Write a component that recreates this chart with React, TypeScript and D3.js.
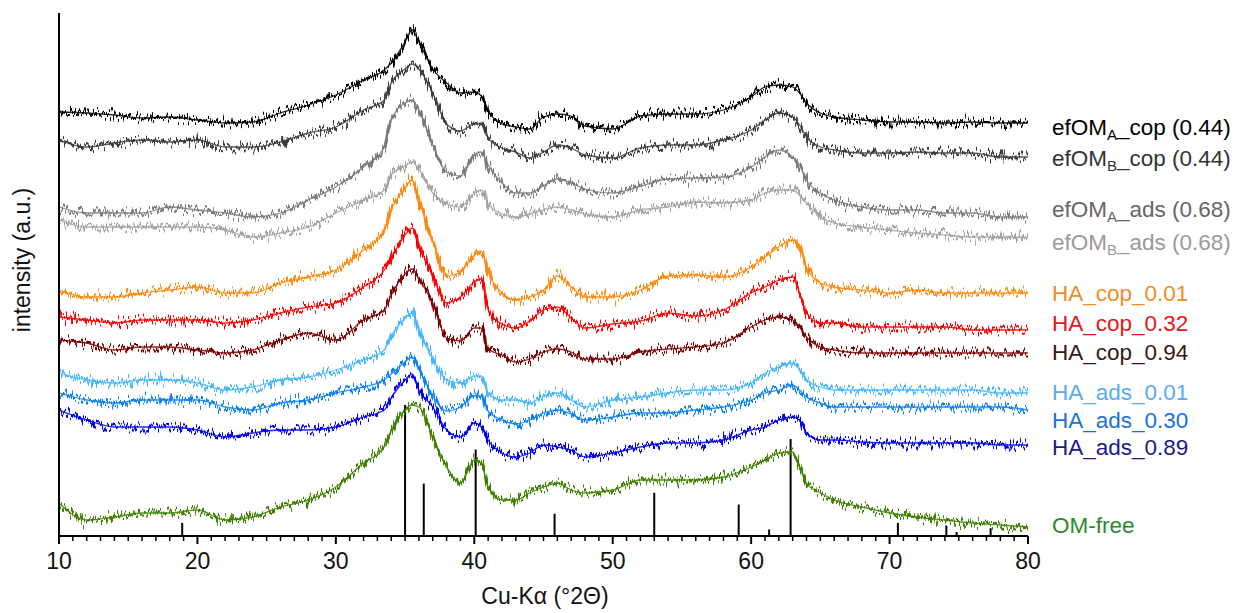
import * as d3 from "d3";

const twoTheta = [10, 12, 14, 16, 18, 20, 22, 24, 26, 28, 30, 32, 33.5, 34, 35, 35.5, 36, 37, 38, 39, 40, 40.5, 41, 42, 43, 44, 45, 46, 47, 48, 50, 52, 54, 56, 58, 60, 61, 62, 63, 63.5, 64, 65, 66, 68, 70, 72, 74, 76, 78, 80];

// stacked intensities (a.u.), offsets included
const efOMAcop = [424, 423, 421, 418, 419, 416, 413, 414, 423, 431, 441, 456, 466, 473, 494, 506, 494, 467, 453, 443, 444, 440, 425, 412, 409, 407, 419, 422, 420, 410, 407, 420, 422, 422, 426, 439, 449, 451, 449, 443, 433, 423, 419, 416, 414, 414, 413, 414, 413, 413];
const efOMBcop = [396, 389, 393, 396, 394, 396, 389, 389, 394, 403, 409, 426, 436, 453, 467, 472, 467, 443, 412, 405, 412, 412, 398, 388, 384, 378, 384, 391, 388, 381, 378, 388, 391, 391, 396, 406, 416, 423, 419, 411, 399, 389, 386, 383, 383, 384, 383, 383, 379, 379];
const efOMAads = [329, 323, 323, 323, 329, 326, 323, 319, 323, 336, 349, 369, 389, 416, 433, 436, 426, 391, 364, 360, 381, 384, 371, 353, 343, 343, 350, 357, 353, 347, 343, 350, 357, 358, 359, 369, 379, 386, 379, 371, 356, 343, 336, 329, 326, 326, 323, 323, 319, 319];
const efOMBads = [316, 309, 309, 309, 309, 309, 306, 299, 303, 309, 323, 336, 346, 361, 370, 374, 367, 343, 332, 329, 343, 346, 332, 322, 319, 322, 326, 329, 326, 322, 319, 326, 329, 334, 333, 336, 343, 346, 346, 341, 333, 319, 313, 309, 306, 303, 301, 299, 299, 298];
const haCop001 = [246, 239, 239, 243, 246, 249, 243, 243, 253, 259, 266, 286, 306, 326, 348, 356, 336, 295, 260, 264, 281, 285, 264, 243, 236, 239, 246, 260, 249, 239, 239, 246, 260, 261, 259, 269, 279, 289, 296, 289, 269, 253, 249, 246, 243, 246, 243, 243, 243, 243];
const haCop032 = [219, 216, 213, 216, 216, 216, 213, 216, 223, 229, 233, 249, 266, 278, 301, 308, 291, 260, 233, 239, 254, 257, 226, 212, 208, 215, 226, 229, 218, 208, 212, 215, 223, 220, 226, 243, 249, 256, 259, 243, 223, 213, 213, 209, 209, 209, 209, 206, 206, 206];
const haCop094 = [196, 193, 186, 189, 189, 186, 183, 186, 196, 203, 196, 216, 226, 241, 262, 267, 257, 233, 198, 195, 208, 208, 187, 181, 174, 177, 184, 187, 184, 177, 177, 184, 187, 189, 193, 209, 216, 219, 216, 209, 199, 189, 186, 183, 183, 183, 183, 183, 183, 183];
const haAds001 = [163, 156, 153, 156, 156, 153, 146, 149, 156, 159, 166, 176, 186, 200, 218, 223, 205, 177, 156, 153, 160, 160, 143, 136, 136, 133, 140, 143, 136, 129, 136, 139, 143, 146, 146, 153, 163, 169, 173, 166, 156, 149, 146, 146, 146, 146, 146, 146, 143, 143];
const haAds030 = [143, 136, 133, 136, 136, 136, 129, 126, 133, 136, 143, 149, 156, 162, 174, 179, 167, 140, 125, 129, 140, 140, 125, 116, 112, 116, 123, 126, 122, 116, 119, 123, 123, 126, 129, 136, 143, 146, 151, 146, 139, 133, 129, 129, 129, 129, 129, 129, 129, 126];
const haAds089 = [126, 116, 109, 109, 109, 106, 99, 103, 106, 106, 109, 119, 126, 138, 156, 162, 146, 129, 106, 99, 113, 109, 96, 83, 79, 83, 91, 89, 86, 79, 83, 89, 93, 93, 96, 106, 109, 116, 119, 116, 103, 96, 96, 94, 93, 93, 93, 93, 91, 91];
const omFree = [33, 16, 19, 23, 23, 26, 16, 19, 29, 36, 49, 73, 89, 106, 126, 131, 129, 99, 69, 53, 76, 73, 49, 36, 36, 43, 49, 53, 46, 43, 46, 56, 56, 56, 59, 69, 76, 83, 84, 69, 53, 43, 36, 29, 23, 19, 16, 13, 11, 9];

// reference pattern (stick lines): position and relative intensity
const stickTheta = [18.9, 35.0, 36.35, 40.1, 45.8, 53.0, 59.1, 61.3, 62.85, 70.6, 74.1, 74.85, 77.3];
const stickIntensity = [10, 100, 40, 66, 17, 33, 24, 5, 74, 10, 8, 3, 6];

const xTicks = [10, 20, 30, 40, 50, 60, 70, 80];

const series = [
  {name: "efOM", sub: "A", rest: "_cop (0.44)", values: efOMAcop, color: "#000000", text: "#000000"},
  {name: "efOM", sub: "B", rest: "_cop (0.44)", values: efOMBcop, color: "#3d3d3d", text: "#333333"},
  {name: "efOM", sub: "A", rest: "_ads (0.68)", values: efOMAads, color: "#7b7b7b", text: "#666666"},
  {name: "efOM", sub: "B", rest: "_ads (0.68)", values: efOMBads, color: "#a3a3a3", text: "#9a9a9a"},
  {name: "HA_cop_0.01", sub: "", rest: "", values: haCop001, color: "#ff8a10", text: "#f28c28"},
  {name: "HA_cop_0.32", sub: "", rest: "", values: haCop032, color: "#ff0000", text: "#e8141b"},
  {name: "HA_cop_0.94", sub: "", rest: "", values: haCop094, color: "#7d0000", text: "#3a1616"},
  {name: "HA_ads_0.01", sub: "", rest: "", values: haAds001, color: "#45b6ff", text: "#5aaaf0"},
  {name: "HA_ads_0.30", sub: "", rest: "", values: haAds030, color: "#0a80f5", text: "#1a72d8"},
  {name: "HA_ads_0.89", sub: "", rest: "", values: haAds089, color: "#0000f0", text: "#1a1a8a"},
  {name: "OM-free", sub: "", rest: "", values: omFree, color: "#3f8000", text: "#2b8a2b"},
];

// legend baselines (px)
const legendY = [135, 166, 217, 250, 301, 331, 360, 400, 428, 455, 533];

export default function App() {
  const width = 1240;
  const height = 613;
  const x0 = 59, x1 = 1028, yAxis = 536, yTop = 13;
  const font = "'Liberation Sans', Arial, Helvetica, sans-serif";

  const xScale = d3.scaleLinear().domain([10, 80]).range([x0, x1]);
  const yScale = d3.scaleLinear().domain([0, 525]).range([yAxis, yAxis - 525]);
  const stickScale = d3.scaleLinear().domain([0, 100]).range([yAxis, 405]);

  const line = d3.line<number>()
    .x((d, i) => xScale(twoTheta[i]))
    .y(d => yScale(d))
    .curve(d3.curveMonotoneX);

  const minor = d3.range(10, 81, 1);

  return (
    <svg width={width} height={height} style={{position: "absolute", left: 0, top: 0, background: "#fff"}}
         fontFamily={font}>
      <defs>
        {/* purely visual counting-noise texture on the traces */}
        <filter id="jitter" filterUnits="userSpaceOnUse" x="0" y="0" width={width} height={height}
                colorInterpolationFilters="sRGB">
          <feTurbulence type="fractalNoise" baseFrequency="0.6 0.05" numOctaves="1" seed="11" result="noise"/>
          <feColorMatrix in="noise" type="matrix"
                         values="0 0 0 0 0.5  0 1 0 0 0  0 0 0 0 0  0 0 0 0 1" result="map"/>
          <feDisplacementMap in="SourceGraphic" in2="map" scale="24" xChannelSelector="R" yChannelSelector="G"/>
        </filter>
      </defs>

      {/* reference sticks */}
      {stickTheta.map((t, i) =>
        <line key={"s" + i} x1={xScale(t)} x2={xScale(t)} y1={yAxis} y2={stickScale(stickIntensity[i])}
              stroke="#000" strokeWidth={2}/>
      )}

      {/* diffractograms */}
      <g filter="url(#jitter)">
        {series.map((s, i) =>
          <path key={"p" + i} d={line(s.values) || ""} fill="none" stroke={s.color} strokeWidth={3}/>
        )}
      </g>
      <g>
        {series.map((s, i) =>
          <path key={"q" + i} d={line(s.values) || ""} fill="none" stroke={s.color} strokeWidth={1.3}
                strokeOpacity={0.85}/>
        )}
      </g>

      {/* axes */}
      <line x1={x0} x2={x0} y1={yTop} y2={yAxis} stroke="#000" strokeWidth={2}/>
      <line x1={x0} x2={x1} y1={yAxis} y2={yAxis} stroke="#000" strokeWidth={2}/>
      {minor.map(v =>
        <line key={"t" + v} x1={xScale(v)} x2={xScale(v)} y1={yAxis}
              y2={yAxis + (v % 10 === 0 ? 8 : 5)} stroke="#000" strokeWidth={v % 10 === 0 ? 2 : 1.5}/>
      )}
      {xTicks.map(v =>
        <text key={"l" + v} x={xScale(v)} y={569} textAnchor="middle" fontSize={23} fill="#111">{v}</text>
      )}
      <text x={545} y={604} textAnchor="middle" fontSize={23} fill="#111">Cu-Kα (°2Θ)</text>
      <text transform="translate(30,260) rotate(-90)" textAnchor="middle" fontSize={23} fill="#111">
        intensity (a.u.)
      </text>

      {/* labels */}
      {series.map((s, i) =>
        <text key={"g" + i} x={1052} y={legendY[i]} fontSize={22.5} fill={s.text}>
          {s.name}
          {s.sub && <tspan dy={5} fontSize={15}>{s.sub}</tspan>}
          {s.sub && <tspan dy={-5}>{s.rest}</tspan>}
        </text>
      )}
    </svg>
  );
}
